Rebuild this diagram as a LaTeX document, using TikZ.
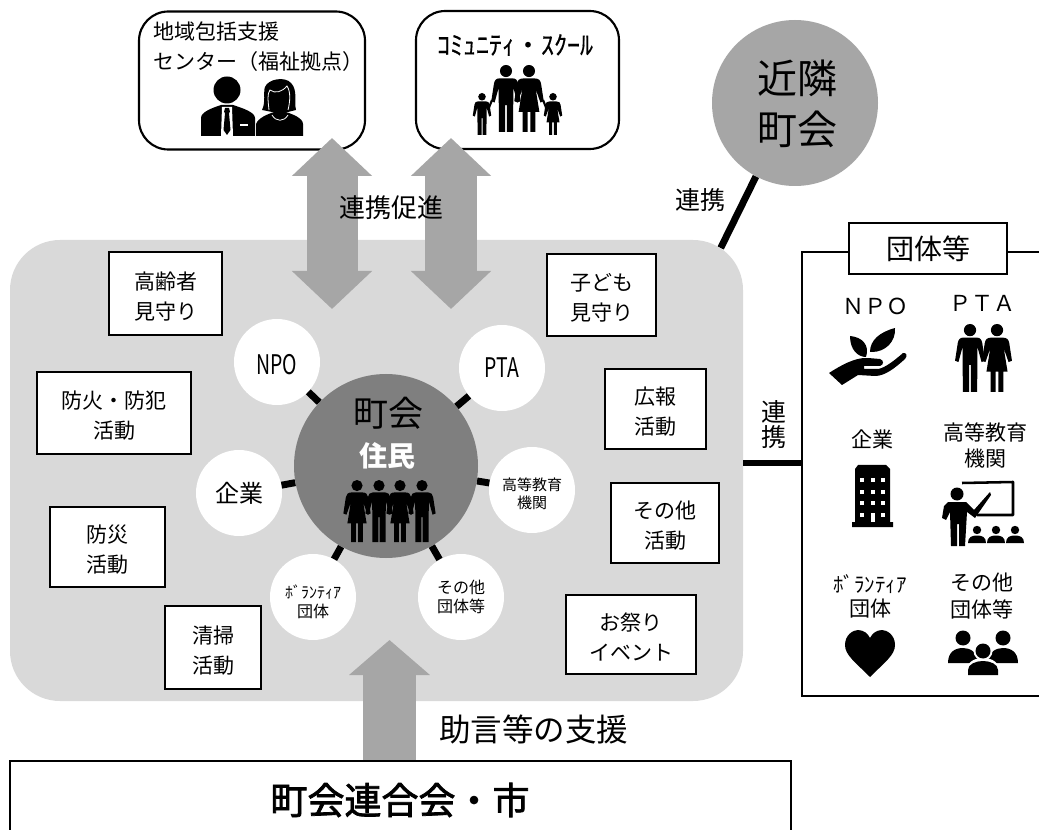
\documentclass[tikz,border=0pt]{standalone}
\usepackage{fontspec}
\usepackage{graphicx}
\setmainfont{Noto Sans CJK JP}
\newfontfamily\semib[FakeBold=2]{Noto Sans CJK JP}
\newfontfamily\semic[FakeBold=.35]{Noto Sans CJK JP}
\usetikzlibrary{arrows.meta}
\newcommand\fpx[2]{\fontsize{\fpeval{#1*.75}pt}{\fpeval{#2*.75}pt}\selectfont}
\newcommand\nrw[2]{\scalebox{#1}[1]{#2}}
\definecolor{panelgray}{HTML}{D9D9D9}
\definecolor{arrgray}{HTML}{A6A6A6}
\definecolor{ctrgray}{HTML}{7F7F7F}
\tikzset{
  actbox/.style={draw=black,fill=white,line width=1.5pt,inner sep=0pt},
  acttext/.style={inner sep=0pt,align=center,font=\fpx{21}{30},yshift=-2.2pt},
  topbox/.style={draw=black,fill=white,line width=1.6pt,rounded corners=22pt,inner sep=0pt},
  satellite/.style={circle,fill=white,minimum size=64.5pt,inner sep=0pt},
  sattext/.style={inner sep=0pt,align=center},
  stub/.style={line width=5.2pt,draw=black},
  thinline/.style={line width=1.4pt,draw=black},
  lbl/.style={inner sep=0pt,align=center},
  pics/manfig/.style={code={
    \fill (0,9) circle (9);
    \fill (-10,20) -- (10,20) .. controls (15,20) and (17,23) .. (18,28) -- (22,54) -- (17,56) -- (11,34) -- (10.5,100) -- (1.2,100) -- (1.2,60) -- (-1.2,60) -- (-1.2,100) -- (-10.5,100) -- (-11,34) -- (-17,56) -- (-22,54) -- (-18,28) .. controls (-17,23) and (-15,20) .. (-10,20) -- cycle;
  }},
  pics/womanfig/.style={code={
    \fill (0,9) circle (9);
    \fill (-8,20) -- (8,20) .. controls (15,20) and (17,23) .. (18,28) -- (22,54) -- (17,56) -- (10,36) -- (15.5,70) -- (9.5,70) -- (9.5,100) -- (2,100) -- (2,70) -- (-2,70) -- (-2,100) -- (-9.5,100) -- (-9.5,70) -- (-15.5,70) -- (-10,36) -- (-17,56) -- (-22,54) -- (-18,28) .. controls (-17,23) and (-15,20) .. (-8,20) -- cycle;
  }},
  pics/seated/.style={code={
    \fill (0,0) circle (4.2);
    \fill (-9,13) .. controls (-9,7) and (-5,5.5) .. (0,5.5) .. controls (5,5.5) and (9,7) .. (9,13) -- cycle;
  }},
}
\newcommand\actboxat[6]{\node[actbox,minimum width={(#4-#2)*.75pt},minimum height={(#5-#3)*.75pt},label={[acttext]center:{#6}}] (#1) at ({(#2+#4)/2},{(#3+#5)/2}) {};}
\begin{document}
\begin{tikzpicture}[x=.75pt,y=-.75pt]
\useasboundingbox (0,0) rectangle (1039,830);
\fill[white] (0,0) rectangle (1039,830);

% top boxes
\node[topbox,minimum width=169.5pt,minimum height=103.5pt] (chiiki) at (252,80.5) {};
\node[topbox,minimum width=152.25pt,minimum height=103.5pt] (school) at (517.5,80) {};

% neighbouring council
\node[circle,fill=arrgray,minimum size=124.5pt,inner sep=0pt,label={[lbl,font=\fpx{40}{51},xshift=1.5pt,yshift=-1pt]center:{近隣\\町会}}] (near) at (795,103) {};
\coordinate (panelcorner) at (720.7,248);
\draw[stub] (near.242) -- (panelcorner);

% panel
\node[fill=panelgray,rounded corners=37.5pt,minimum width=549.75pt,minimum height=345.75pt,inner sep=0pt] (panel) at (376.5,470.5) {};

% grouped box on the right
\draw[thinline] (1039,252) -- (802,252) -- (802,696) -- (1039,696);
\node[draw=black,fill=white,line width=1.4pt,minimum width=118.5pt,minimum height=38.25pt,inner sep=0pt,font=\fpx{28}{32}] (groups) at (928,248.5) {団体等};

% link panel - groups
\coordinate (panelright) at (743,463);
\coordinate (groupleft) at (802,463);
\draw[stub] (panelright) -- (groupleft);

% block arrows
\coordinate (a1t) at (332,138); \coordinate (a1b) at (332,309);
\coordinate (a2t) at (451,138); \coordinate (a2b) at (451,309);
\coordinate (a3t) at (389.5,640); \coordinate (a3b) at (389.5,761);
\draw[draw=arrgray,line width=38.25pt,{Triangle[length=28.5pt,width=58.5pt]}-{Triangle[length=28.5pt,width=58.5pt]}] (a1t) -- (a1b);
\draw[draw=arrgray,line width=39pt,{Triangle[length=28.5pt,width=58.5pt]}-{Triangle[length=28.5pt,width=58.5pt]}] (a2t) -- (a2b);
\draw[draw=arrgray,line width=39.75pt,-{Triangle[length=26.25pt,width=59.25pt]}] (a3b) -- (a3t);

% activity boxes
\actboxat{koreisha}{109}{252}{222}{335}{高齢者\\見守り}
\actboxat{bouka}{37}{372}{191}{454}{防火・防犯\\活動}
\actboxat{bousai}{50}{507}{165}{587}{防災\\活動}
\actboxat{seisou}{165}{606}{261}{689}{清掃\\活動}
\actboxat{kodomo}{547}{254}{656}{336}{子ども\\見守り}
\actboxat{kouhou}{605}{369}{706}{449}{広報\\活動}
\actboxat{sonota}{611}{483}{719}{563}{その他\\活動}
\actboxat{matsuri}{566}{595}{696}{674}{お祭り\\イベント}

% central circle and satellites
\node[circle,fill=ctrgray,minimum size=138pt,inner sep=0pt] (center) at (386,466) {};
\node[satellite,label={[sattext,font=\fpx{27}{30},yshift=-2pt]center:{\nrw{.72}{NPO}}}] (snpo) at (277,362) {};
\node[satellite,label={[sattext,font=\fpx{27}{30}]center:{\nrw{.72}{PTA}}}] (spta) at (502,368) {};
\node[satellite,label={[sattext,font=\fpx{24}{30}]center:{企業}}] (skigyo) at (239,493) {};
\node[satellite,label={[sattext,font=\fpx{15}{18.5},yshift=-3pt]center:{高等教育\\機関}}] (skoto) at (532,490) {};
\node[satellite,label={[sattext,font=\fpx{16}{19.5},yshift=-3.5pt]center:{ﾎﾞﾗﾝﾃｨｱ\\団体}}] (svol) at (313,597) {};
\node[satellite,label={[sattext,font=\fpx{16}{19}]center:{その他\\団体等}}] (soth) at (461,597) {};
\foreach \s in {snpo,spta,skigyo,skoto,svol,soth} \draw[stub] (center) -- (\s);

\node[lbl,font=\fpx{35}{40}] (tchokai) at (388,413) {町会};
\node[lbl,font=\fpx{28}{30}\bfseries,text=white] (tjumin) at (387,456) {住民};
\pic[scale=.62] at (357,480) {womanfig};
\pic[scale=.62] at (379,480) {manfig};
\pic[scale=.62] at (400,480) {womanfig};
\pic[scale=.62] at (422,480) {manfig};

% top box texts and icons
\node[lbl,anchor=west,font=\fpx{21}{24}] (tchiiki1) at (153,32) {地域包括支援};
\node[lbl,anchor=west,font=\fpx{21}{24}] (tchiiki2) at (153,62) {センター（福祉拠点）};
\node[lbl,font=\fpx{26}{28}\semic] (tschool) at (515,45) {ｺﾐｭﾆﾃｨ・ｽｸｰﾙ};
% man
\fill (227,90) circle (13.5);
\fill (201,136) -- (201,118) .. controls (201,112) and (212,108) .. (221,105) -- (233,105) .. controls (242,108) and (255,112) .. (255,118) -- (255,136) -- cycle;
\fill[white] (222,107) -- (232,107) -- (233,136) -- (221,136) -- cycle;
\fill (225,108) -- (229,108) -- (230,112) -- (229,113) -- (230.5,130) -- (227,135) -- (223.5,130) -- (225,113) -- (224,112) -- cycle;
\fill[white] (240,124) rectangle (248,126);
% woman
\fill (262,110) .. controls (266,102) and (263,92) .. (265,87) .. controls (268,79) and (285,76) .. (291,83) .. controls (298,90) and (294,102) .. (296,110) -- (288,112) -- (272,112) -- cycle;
\draw[white,line width=.6pt] (269,110) .. controls (268,100) and (267,94) .. (270,90) .. controls (275,94) and (282,92) .. (287,86) .. controls (291,92) and (290,102) .. (288,110);
\fill (256,136) -- (256,124) .. controls (258,118) and (268,114) .. (274,112) -- (286,112) .. controls (292,114) and (303,118) .. (303,124) -- (303,136) -- cycle;
\draw[white,line width=.6pt] (272,115) .. controls (276,122) and (284,122) .. (288,115);
% family
\pic[scale=.42] at (482,93) {manfig};
\pic[scale=.42] at (553,93) {womanfig};
\pic[scale=.67] at (506,65) {manfig};
\pic[scale=.67] at (529,65) {womanfig};
\draw[line width=1.6pt] (492,100) -- (488,110);
\draw[line width=1.6pt] (543,100) -- (547,110);

% free labels
\node[lbl,font=\fpx{26}{28}] (trenkei) at (391,208) {連携促進};
\node[lbl,font=\fpx{25}{28}] (trenkei2) at (700,200) {連携};
\node[lbl,font=\fpx{25}{25}] (trenkei3) at (774,424.5) {連\\携};
\node[lbl,font=\fpx{31.5}{34}] (tjogen) at (533.5,729) {助言等の支援};

% bottom box
\draw[line width=1.6pt] (10,830) -- (10,761) -- (791,761) -- (791,830);
\node[lbl,font=\fpx{37}{40}\semib] (trengo) at (400,800) {町会連合会・市};

% groups content
\node[lbl,font=\fpx{22}{25}] (gnpo) at (875,306) {ＮＰＯ};
\node[lbl,font=\fpx{22}{25}] (gpta) at (982,303) {ＰＴＡ};
\node[lbl,font=\fpx{21}{26}] (gkig) at (872,439) {企業};
\node[lbl,font=\fpx{21}{26}] (gkot) at (985,445) {高等教育\\機関};
\node[lbl,font=\fpx{21}{24}] (gvol) at (870,596.5) {ﾎﾞﾗﾝﾃｨｱ\\団体};
\node[lbl,font=\fpx{21}{27}] (goth) at (982,596.5) {その他\\団体等};

% NPO icon
\fill (829,373) .. controls (840,366) and (855,357) .. (868,358) -- (880,359) .. controls (884,360) and (884,365) .. (880,366) -- (864,366) -- (864,369) -- (878,369) .. controls (885,368) and (895,360) .. (903,353) .. controls (906,352) and (908,356) .. (905,359) .. controls (895,368) and (885,376) .. (875,376) -- (858,375) -- (842,385) -- cycle;
\fill (866,357) .. controls (858,357) and (850,350) .. (850,336) .. controls (862,337) and (870,345) .. (866,357) -- cycle;
\fill (870,352) .. controls (870,340) and (880,332) .. (895,328) .. controls (896,342) and (885,352) .. (872,352) -- cycle;
% PTA icon
\pic[scale=.68] at (970,324) {manfig};
\pic[scale=.68] at (997,324) {womanfig};
% building
\fill (858,465) -- (886,465) -- (890,469) -- (890,522) -- (893,522) -- (893,527) -- (852,527) -- (852,522) -- (855,522) -- (855,469) -- cycle;
\foreach \yy in {480,492,503} \foreach \xx in {862,873,883} \fill[white] (\xx-2.3,\yy-2.3) rectangle (\xx+2.3,\yy+2.3);
\foreach \xx in {862,883} \fill[white] (\xx-2.3,512.7) rectangle (\xx+2.3,517.3);
\fill[white] (870.7,512.7) rectangle (875.3,522);
% teacher
\fill (957,494) circle (6.5);
\fill (948,502) -- (966,502) -- (974,510) -- (990,492) -- (991,495) -- (975,518) -- (967,512) -- (965,546) -- (959,546) -- (959,524) -- (957,524) -- (957,546) -- (951,546) -- (950,512) -- (946,520) -- (942,518) -- (944,506) -- cycle;
\draw[line width=1.9pt,line join=round] (962,483) -- (1013,482) -- (1013,515) -- (977,515);
\pic at (977,530) {seated};
\pic at (996,530) {seated};
\pic at (1015,530) {seated};
% heart
\fill (870,677) .. controls (855,662) and (845,655) .. (845,645) .. controls (845,635) and (853,630) .. (858,630) .. controls (864,630) and (868,634) .. (870,638) .. controls (872,634) and (876,630) .. (882,630) .. controls (887,630) and (895,635) .. (895,645) .. controls (895,655) and (885,662) .. (870,677) -- cycle;
% group of three
\fill (963,638) circle (7.5);
\fill (1003,638) circle (7.5);
\fill (948,663) .. controls (948,652) and (955,648) .. (963,648) .. controls (970,648) and (978,652) .. (978,663) -- cycle;
\fill (988,663) .. controls (988,652) and (996,648) .. (1003,648) .. controls (1011,648) and (1018,652) .. (1018,663) -- cycle;
\fill[white] (983,651) circle (9.5);
\fill[white] (965,677) .. controls (965,662) and (974,658) .. (983,658) .. controls (992,658) and (1001,662) .. (1001,677) -- cycle;
\fill (983,651) circle (7.5);
\fill (968,675) -- (968,670) .. controls (968,664) and (976,661) .. (983,661) .. controls (990,661) and (998,664) .. (998,670) -- (998,675) -- cycle;
\end{tikzpicture}
\end{document}
